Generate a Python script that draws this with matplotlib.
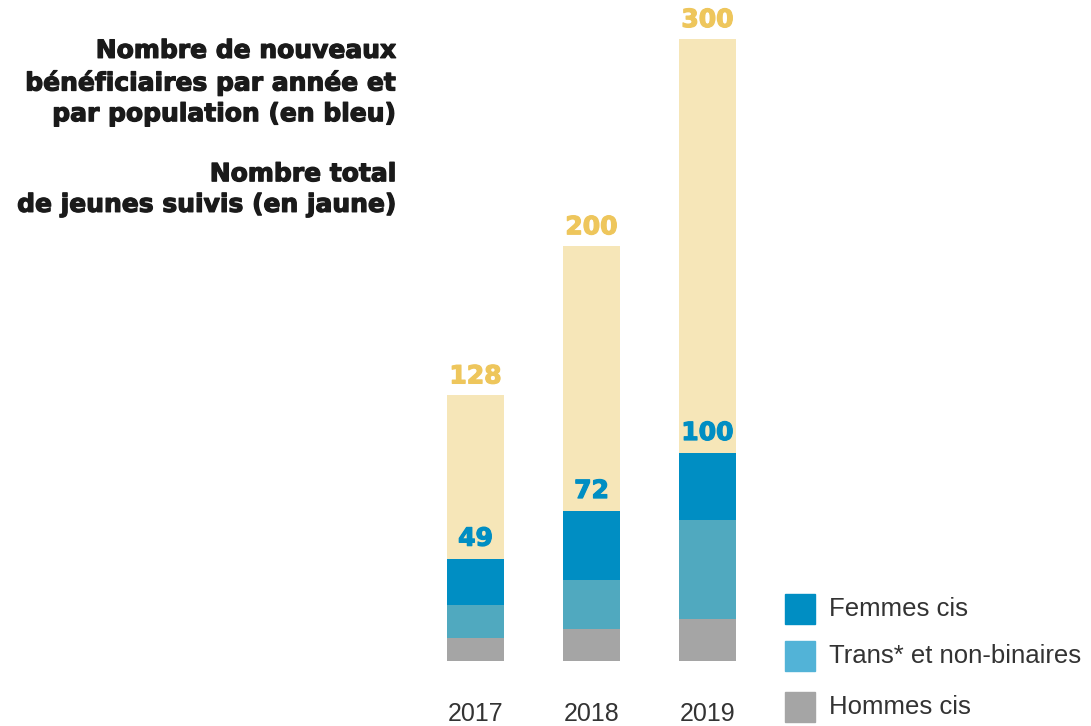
import matplotlib.pyplot as plt
import matplotlib.patheffects as pe
from matplotlib.patches import Rectangle

years = ["2017", "2018", "2019"]
total_jeunes = [128, 200, 300]
hommes_cis = [11, 15, 20]
trans_nb = [16, 24, 48]
femmes_cis = [22, 33, 32]
nouveaux = [49, 72, 100]

c_yellow = "#F6E6B8"
c_yellow_txt = "#EEC65C"
c_dark = "#008EC3"
c_light = "#50A9BF"
c_light_leg = "#52B3D7"
c_grey = "#A5A5A5"

fig = plt.figure(figsize=(10.91, 7.26), dpi=100)
fig.patch.set_facecolor("white")
ax = fig.add_axes([0.3827, 0.0902, 0.319, 0.8561])

x = list(range(len(years)))
w = 0.49
ax.bar(x, total_jeunes, width=w, color=c_yellow)
ax.bar(x, hommes_cis, width=w, color=c_grey)
bottom2 = hommes_cis
ax.bar(x, trans_nb, width=w, bottom=bottom2, color=c_light)
bottom3 = [a + b for a, b in zip(hommes_cis, trans_nb)]
ax.bar(x, femmes_cis, width=w, bottom=bottom3, color=c_dark)

def heavy(col):
    return [pe.withStroke(linewidth=0.9, foreground=col)]

vals = dict(family="DejaVu Sans", weight="bold", fontsize=18)
for i in x:
    ax.annotate(str(total_jeunes[i]), (i, total_jeunes[i]), xytext=(0, 5),
                textcoords="offset points", ha="center", va="bottom",
                color=c_yellow_txt, path_effects=heavy(c_yellow_txt), **vals)
    ax.annotate(str(nouveaux[i]), (i, nouveaux[i]), xytext=(0, 6),
                textcoords="offset points", ha="center", va="bottom",
                color=c_dark, path_effects=heavy(c_dark), **vals)

ax.set_xlim(-0.5, 2.5)
ax.set_ylim(0, 300)
ax.set_xticks(x)
ax.set_xticklabels(years, fontsize=18, color="#333333", family="Liberation Sans")
ax.tick_params(axis="x", length=0, pad=30)
ax.set_yticks([])
for s in ax.spines.values():
    s.set_visible(False)
ax.patch.set_alpha(0)

# titre
tit = dict(family="DejaVu Sans", weight="bold", fontsize=18)
fig.text(397 / 1091, 1 - 82.5 / 726,
         "Nombre de nouveaux\nbénéficiaires par année et\npar population (en bleu)",
         ha="right", va="center", color="#1a1a1a", linespacing=1.35,
         path_effects=heavy("#1a1a1a"), **tit)
fig.text(397 / 1091, 1 - 189.5 / 726, "Nombre total\nde jeunes suivis (en jaune)",
         ha="right", va="center", color="#1a1a1a", linespacing=1.35,
         path_effects=heavy("#1a1a1a"), **tit)

# legende
leg = [("Femmes cis", c_dark), ("Trans* et non-binaires", c_light_leg), ("Hommes cis", c_grey)]
tops = [594, 641, 692]
for (lab, col), t in zip(leg, tops):
    fig.patches.append(Rectangle((785 / 1091, 1 - (t + 30) / 726), 30 / 1091, 30 / 726,
                                 transform=fig.transFigure, color=col))
    fig.text(829 / 1091, 1 - (t + 15) / 726, lab, ha="left", va="center",
             fontsize=18.5, color="#333333", family="Liberation Sans")

plt.savefig("out.png", dpi=100)
